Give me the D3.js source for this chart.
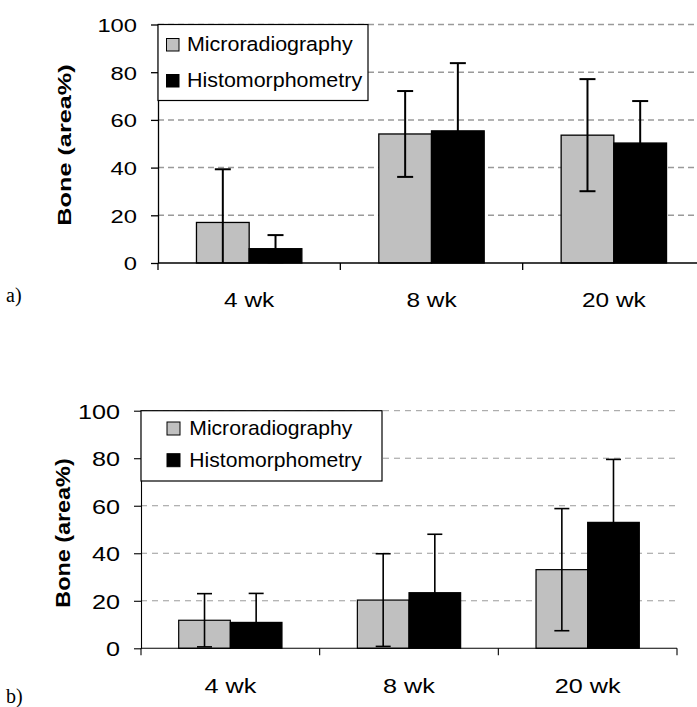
<!DOCTYPE html>
<html>
<head>
<meta charset="utf-8">
<script src="https://cdn.jsdelivr.net/npm/d3@7"></script>
<style>
  body{margin:0;background:#fff;}
  svg{display:block;font-family:"Liberation Sans",Arial,sans-serif;}
</style>
</head>
<body>
<div id="chart"></div>
<script>
// data
const categories=["4 wk","8 wk","20 wk"];
const seriesNames=["Microradiography","Histomorphometry"];
const yTicks=[0,20,40,60,80,100];

// panel a
const microA=[17,54.1,53.6];
const microSdA=[22.3,18,23.5];
const histoA=[6,55.4,50.3];
const histoSdA=[5.7,28.4,17.6];

// panel b
const microB=[11.8,20.3,33.1];
const microSdB=[11.2,19.5,25.7];
const histoB=[10.9,23.4,53];
const histoSdB=[12.2,24.6,26.5];

const fills=["#c0c0c0","#000000"];

const W=697,H=707;
const svg=d3.select("#chart").append("svg")
  .attr("width",W).attr("height",H)
  .style("background","#fff");

function drawPanel(cfg,values,sds){
  const g=svg.append("g");

  const x0=d3.scaleBand().domain(categories).range([cfg.left,cfg.right]).padding(0);
  const x1=d3.scaleBand().domain(seriesNames).range([0,x0.bandwidth()])
    .paddingInner(0).paddingOuter(0.73);
  const y=d3.scaleLinear().domain([0,100]).range([cfg.y0,cfg.y100]);

  //grid lines
  g.append("g").selectAll("line")
    .data(yTicks.filter(d=>d>0))
    .enter().append("line")
    .attr("x1",cfg.left).attr("x2",cfg.right)
    .attr("y1",d=>y(d)).attr("y2",d=>y(d))
    .attr("stroke","#9a9a9a")
    .attr("stroke-width",cfg.gridW)
    .attr("stroke-dasharray",cfg.dash);

  //bars
  const rows=[];
  seriesNames.forEach((s,si)=>{
    categories.forEach((c,ci)=>{
      rows.push({s:s,si:si,c:c,v:values[si][ci],sd:sds[si][ci]});
    });
  });

  g.append("g").selectAll("rect")
    .data(rows)
    .enter().append("rect")
    .attr("x",d=>x0(d.c)+x1(d.s))
    .attr("y",d=>y(d.v))
    .attr("width",x1.bandwidth())
    .attr("height",d=>y(0)-y(d.v))
    .attr("fill",d=>fills[d.si])
    .attr("stroke","#000")
    .attr("stroke-width",cfg.barStroke);

  //error bars
  const err=g.append("g").attr("stroke","#000").attr("stroke-width",cfg.errW);
  rows.forEach(d=>{
    const cx=x0(d.c)+x1(d.s)+x1.bandwidth()/2;
    const hi=y(d.v+d.sd);
    const lo=y(Math.max(0,d.v-d.sd));
    err.append("line").attr("x1",cx).attr("x2",cx).attr("y1",hi).attr("y2",lo);
    err.append("line").attr("x1",cx-cfg.cap/2).attr("x2",cx+cfg.cap/2).attr("y1",hi).attr("y2",hi);
    if(d.v-d.sd>0){
      err.append("line").attr("x1",cx-cfg.cap/2).attr("x2",cx+cfg.cap/2).attr("y1",lo).attr("y2",lo);
    }
  });

  //y axis
  const yAxis=d3.axisLeft(y).tickValues(yTicks).tickSize(7).tickSizeOuter(0).tickFormat(d3.format("d"));
  const ya=g.append("g").attr("transform",`translate(${cfg.left},0)`).call(yAxis);
  ya.select(".domain").attr("stroke","#000").attr("stroke-width",cfg.axisW);
  ya.selectAll(".tick line").attr("stroke","#000").attr("stroke-width",cfg.axisW);
  ya.selectAll(".tick text")
    .attr("font-size",cfg.tickFont)
    .attr("font-family","Liberation Sans, Arial, sans-serif")
    .attr("fill","#000")
    .attr("x",-(cfg.left-cfg.tickRight)/cfg.tickScale)
    .attr("dy","0.36em")
    .attr("transform",`scale(${cfg.tickScale},1)`);

  //x axis: line, ticks at category edges, labels at centres
  const xa=g.append("g").attr("stroke","#000").attr("stroke-width",cfg.axisW);
  xa.append("line").attr("x1",cfg.left).attr("x2",cfg.right).attr("y1",y(0)).attr("y2",y(0));
  const edges=categories.map(c=>x0(c)).concat([cfg.right]);
  xa.selectAll(".xt").data(edges).enter().append("line")
    .attr("x1",d=>d).attr("x2",d=>d)
    .attr("y1",y(0)).attr("y2",y(0)+7);

  g.append("g").selectAll("text")
    .data(categories)
    .enter().append("text")
    .attr("transform",d=>`translate(${x0(d)+x0.bandwidth()/2},${cfg.catBase}) scale(${cfg.catScale},1)`)
    .attr("text-anchor","middle")
    .attr("font-size",cfg.catFont)
    .text(d=>d);

  //y label
  g.append("text")
    .attr("transform",`translate(${cfg.yLabX},${cfg.yLabY}) rotate(-90) scale(${cfg.yLabScale},1)`)
    .attr("text-anchor","middle")
    .attr("dy","0.36em")
    .attr("font-size",cfg.yLabFont)
    .attr("font-weight","bold")
    .text("Bone (area%)");

  //legend
  const L=cfg.legend;
  const lg=g.append("g");
  lg.append("rect")
    .attr("x",L.x).attr("y",L.y).attr("width",L.w).attr("height",L.h)
    .attr("fill","#fff").attr("stroke","#000").attr("stroke-width",1.2);
  seriesNames.forEach((s,i)=>{
    lg.append("rect")
      .attr("x",L.sqX).attr("y",L.rows[i]-L.sq)
      .attr("width",L.sq).attr("height",L.sq)
      .attr("fill",fills[i]).attr("stroke","#000").attr("stroke-width",1);
    lg.append("text")
      .attr("transform",`translate(${L.textX},${L.rows[i]}) scale(${L.scale},1)`)
      .attr("font-size",L.font)
      .text(s);
  });

  //panel tag
  svg.append("text")
    .attr("x",cfg.tagX).attr("y",cfg.tagY)
    .attr("font-family","Liberation Serif, Times New Roman, serif")
    .attr("font-size",20)
    .text(cfg.tag);
}

drawPanel({
  left:158,right:705,y0:263,y100:24.5,
  gridW:1.5,dash:"6,4",barStroke:1.3,errW:2,cap:16,axisW:1.3,
  tickFont:19,tickScale:1.25,tickRight:137,
  catFont:20,catScale:1.22,catBase:306.5,
  yLabX:64,yLabY:145,yLabFont:19,yLabScale:1.33,
  legend:{x:158,y:24.5,w:210,h:76,sq:12.5,sqX:166.5,textX:187,rows:[51,87],font:19.5,scale:1.1},
  tag:"a)",tagX:6,tagY:302
},[microA,histoA],[microSdA,histoSdA]);

drawPanel({
  left:141,right:677,y0:648.3,y100:410.7,
  gridW:1,dash:"6,5",barStroke:1.2,errW:1.6,cap:15,axisW:1.1,
  tickFont:21,tickScale:1.2,tickRight:120,
  catFont:21,catScale:1.2,catBase:693,
  yLabX:63,yLabY:533,yLabFont:19.5,yLabScale:1.2,
  legend:{x:141,y:410.7,w:241,h:70.3,sq:13,sqX:167,textX:189.3,rows:[435,466.7],font:20.5,scale:1.03},
  tag:"b)",tagX:6,tagY:703
},[microB,histoB],[microSdB,histoSdB]);
</script>
</body>
</html>
